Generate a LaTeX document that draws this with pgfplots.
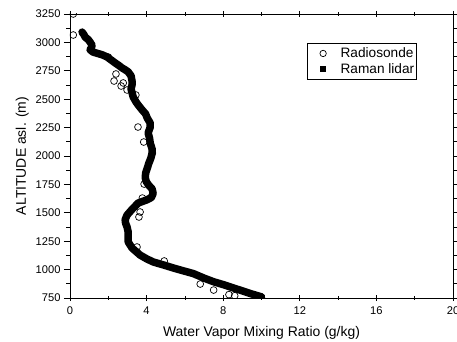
\documentclass[border=0pt]{standalone}
\usepackage{pgfplots}
\pgfplotsset{compat=1.18}
\usepackage{fontspec}
\setmainfont{Liberation Sans}
\begin{document}
\begin{tikzpicture}
\begin{axis}[
  scale only axis, width=383bp, height=284bp,
  xmin=0, xmax=20, ymin=750, ymax=3250,
  xtick={0,4,...,20}, ytick={750,1000,...,3250},
  minor x tick num=1, minor y tick num=1,
  xtick align=center, ytick align=outside,
  major tick length=6bp, minor tick length=3.5bp,
  tick style={black, line width=0.8bp},
  axis line style={line width=0.8bp},
  tick label style={font=\fontsize{11.2}{13}\selectfont},
  xticklabel style={yshift=-2bp},
  label style={font=\fontsize{14}{16}\selectfont},
  xlabel style={yshift=-5bp},
  /pgf/number format/assume math mode=true,
  /pgf/number format/1000 sep={},
  xlabel={Water Vapor Mixing Ratio (g/kg)},
  ylabel={ALTITUDE asl. (m)},
  clip marker paths=true,
  legend style={at={(rel axis cs:0.906,0.898)}, anchor=north east,
    draw=black, line width=0.6bp, font=\fontsize{13.7}{15}\selectfont,
    inner xsep=1bp, inner ysep=3bp, row sep=1.5bp,
    nodes={inner sep=1.5bp}},
  legend cell align=left,
]
\addplot[only marks, mark=o, mark size=3.4bp, mark options={line width=0.7bp, fill=white},
  legend image code/.code={\path[draw=none, fill=none] (0,0) -- (31bp,0); \draw[black, solid, line width=0.7bp, fill=white] (15bp,0) circle (3.2bp);}] coordinates {
(0.17,3250) (0.17,3065) (2.0,2871) (2.4,2722) (2.3,2660) (2.78,2643) (2.67,2616)
(2.98,2581) (3.44,2537) (3.55,2255) (3.85,2123) (4.3,2026) (3.87,1753) (3.78,1630)
(3.66,1507) (3.6,1463) (3.5,1199) (4.92,1076) (6.8,873) (7.5,820) (8.3,780) (8.6,770)
};
\addlegendentry{Radiosonde}
\addplot[black, line width=7.5bp, line join=round, line cap=round,
  legend image code/.code={\path[draw=none, fill=none] (0,0) -- (31bp,0); \path[draw=none, fill=black] (12bp,-3bp) rectangle (18bp,3bp);}] coordinates {
(0.63,3091) (0.72,3070) (0.79,3047) (0.95,3025) (1.05,3003) (1.15,2975) (1.12,2955)
(1.05,2935) (1.2,2915) (1.4,2905) (1.7,2890) (1.94,2871) (2.15,2845) (2.36,2819)
(2.55,2797) (2.72,2775) (2.9,2757) (3.04,2740) (3.19,2705) (3.24,2660) (3.24,2625)
(3.19,2590) (3.3,2519) (3.45,2475) (3.56,2449) (3.77,2405) (3.95,2370) (4.03,2335)
(4.19,2290) (4.19,2255) (4.08,2202) (4.15,2160) (4.19,2114) (4.29,2060) (4.29,2026)
(4.22,1980) (4.12,1938) (4.03,1890) (3.95,1850) (3.93,1810) (3.98,1775) (4.1,1745)
(4.29,1710) (4.34,1670) (4.25,1635) (4.03,1615) (3.56,1586) (3.24,1530) (2.98,1480)
(2.88,1440) (2.9,1410) (2.98,1375) (3.04,1330) (3.04,1280) (3.04,1243) (3.24,1190)
(3.66,1128) (4.0,1095) (4.35,1067) (4.9,1040) (5.4,1014) (5.9,990) (6.44,965)
(7.0,925) (7.5,893) (8.0,868) (8.5,840) (9.0,813) (9.5,785) (10.0,760)
};
\addlegendentry{Raman lidar}
\end{axis}
\pgfresetboundingbox
\path ([shift={(-70bp,-44bp)}]current axis.south west) rectangle ([shift={(4bp,14bp)}]current axis.north east);
\end{tikzpicture}
\end{document}
